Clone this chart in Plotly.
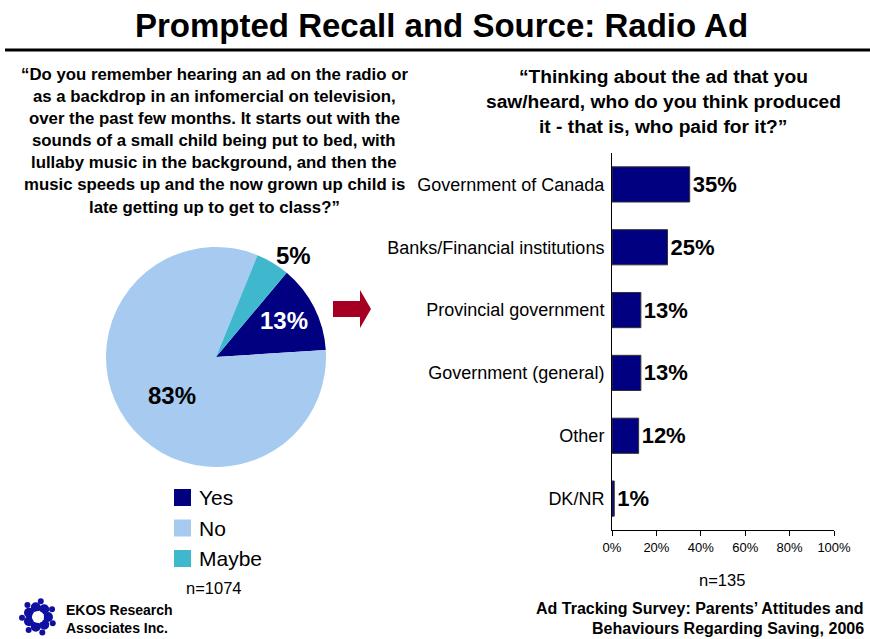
import math
import plotly.graph_objects as go

W, H = 870, 639

# Recall question (pie)
recall_labels = ["Yes", "No", "Maybe"]
recall_values = [13, 83, 5]
recall_colors = ["#000080", "#A6CAF0", "#3FB8CD"]
recall_n = "n=1074"

# Source question (bars)
source_labels = [
    "Government of Canada",
    "Banks/Financial institutions",
    "Provincial government",
    "Government (general)",
    "Other",
    "DK/NR",
]
source_values = [35, 25, 13, 13, 12, 1]
source_n = "n=135"
x_ticks = [0, 20, 40, 60, 80, 100]

title_text = "Prompted Recall and Source: Radio Ad"
q1_lines = [
    "“Do you remember hearing an ad on the radio or",
    "as a backdrop in an infomercial on television,",
    "over the past few months. It starts out with the",
    "sounds of a small child being put to bed, with",
    "lullaby music in the background, and then the",
    "music speeds up and the now grown up child is",
    "late getting up to get to class?”",
]
q2_lines = [
    "“Thinking about the ad that you",
    "saw/heard, who do you think produced",
    "it - that is, who paid for it?”",
]
footer_lines = [
    "Ad Tracking Survey: Parents’ Attitudes and",
    "Behaviours Regarding Saving, 2006",
]
logo_lines = ["EKOS Research", "Associates Inc."]

SANS = "Liberation Sans, Arial"


def px(x):
    return x / W


def py(y):
    return 1 - y / H


def note(x, y, text, size, color="black", xanchor="center", bold=False):
    return dict(x=px(x), y=py(y), xref="paper", yref="paper",
                xanchor=xanchor, yanchor="middle",
                text=f"<b>{text}</b>" if bold else text, showarrow=False,
                font=dict(family=SANS, size=size, color=color))


fig = go.Figure()

fig.add_trace(go.Pie(
    labels=recall_labels,
    values=recall_values,
    marker=dict(colors=recall_colors, line=dict(width=0)),
    sort=False,
    direction="clockwise",
    rotation=40,
    textinfo="none",
    hoverinfo="label+percent",
    showlegend=False,
    domain=dict(x=[px(106), px(326)], y=[py(470), py(244)]),
))

fig.add_trace(go.Bar(
    x=source_values,
    y=source_labels,
    orientation="h",
    marker=dict(color="#000080", line=dict(color="#333333", width=1)),
    text=[f"{v}%" for v in source_values],
    textposition="outside",
    textfont=dict(family=SANS, size=22, color="black", weight="bold"),
    cliponaxis=False,
    showlegend=False,
    xaxis="x",
    yaxis="y",
))

annotations = []
shapes = []

# Title and rule
annotations.append(note(441, 25, title_text, 33, bold=True))
shapes.append(dict(type="line", xref="paper", yref="paper",
                   x0=px(5), x1=px(870), y0=py(50), y1=py(50),
                   line=dict(color="black", width=3)))

# Question texts
for i, line in enumerate(q1_lines):
    annotations.append(note(214, 74 + 22.2 * i, line, 16.8, bold=True))
for i, line in enumerate(q2_lines):
    annotations.append(note(663, 77 + 25 * i, line, 19.2, bold=True))

# Pie value labels
pie_label_pos = [(284, 320, "white"), (172, 396, "black"), (293, 255, "black")]
for v, (x, y, c) in zip(recall_values, pie_label_pos):
    annotations.append(note(x, y, f"{v}%", 24, color=c, bold=True))

# Pie legend
for i, (lab, col) in enumerate(zip(recall_labels, recall_colors)):
    y0 = 489 + 30.5 * i
    shapes.append(dict(type="rect", xref="paper", yref="paper",
                       x0=px(174), x1=px(191), y0=py(y0), y1=py(y0 + 17),
                       fillcolor=col, line=dict(width=0)))
    annotations.append(note(197, y0 + 8.5, lab, 21, xanchor="left"))
annotations.append(note(214, 588, recall_n, 16.5))
annotations.append(note(722, 580, source_n, 16.5))

# Arrow between panels
ax0, ax1, axm = 333, 371, 360
ay_t, ay_b, ay_c = 290, 328, 309
arrow_path = (f"M {px(ax0)} {py(ay_c - 8)} L {px(axm)} {py(ay_c - 8)} "
              f"L {px(axm)} {py(ay_t)} L {px(ax1)} {py(ay_c)} "
              f"L {px(axm)} {py(ay_b)} L {px(axm)} {py(ay_c + 8)} "
              f"L {px(ax0)} {py(ay_c + 8)} Z")
shapes.append(dict(type="path", xref="paper", yref="paper", path=arrow_path,
                   fillcolor="#A50021", line=dict(width=0)))

# Footer
for i, line in enumerate(footer_lines):
    annotations.append(note(866, 608 + 20 * i, line, 16, xanchor="right", bold=True))
for i, line in enumerate(logo_lines):
    annotations.append(note(64, 610 + 18 * i, line, 14, xanchor="left", bold=True))

# Logo: ring of swirls
cx, cy = 38, 617
for k in range(7):
    a = 2 * math.pi * k / 7
    bx, by = cx + 10 * math.cos(a), cy + 10 * math.sin(a)
    shapes.append(dict(type="circle", xref="paper", yref="paper",
                       x0=px(bx - 5), x1=px(bx + 5), y0=py(by - 5), y1=py(by + 5),
                       fillcolor="#1010A0", line=dict(width=0)))
    sx, sy = cx + 16 * math.cos(a + 0.4), cy + 16 * math.sin(a + 0.4)
    shapes.append(dict(type="circle", xref="paper", yref="paper",
                       x0=px(sx - 3), x1=px(sx + 3), y0=py(sy - 3), y1=py(sy + 3),
                       fillcolor="#1010A0", line=dict(width=0)))
shapes.append(dict(type="circle", xref="paper", yref="paper",
                   x0=px(cx - 6), x1=px(cx + 6), y0=py(cy - 6), y1=py(cy + 6),
                   fillcolor="white", line=dict(width=0)))

fig.update_layout(
    width=W, height=H,
    margin=dict(l=0, r=0, t=0, b=0),
    paper_bgcolor="white",
    plot_bgcolor="white",
    bargap=0.44,
    xaxis=dict(domain=[px(612), px(834)], range=[0, 100], tickvals=x_ticks,
               ticktext=[f"{v}%" for v in x_ticks], ticks="outside", ticklen=5,
               tickcolor="black", showline=True, linecolor="black", linewidth=1,
               showgrid=False, zeroline=False, automargin=False,
               tickfont=dict(family=SANS, size=13, color="black"),
               fixedrange=True),
    yaxis=dict(domain=[py(530), py(153)], autorange="reversed",
               showline=True, linecolor="black", linewidth=1, showgrid=False,
               ticks="", ticklabelstandoff=3, automargin=False,
               tickfont=dict(family=SANS, size=18, color="black"),
               fixedrange=True),
    annotations=annotations,
    shapes=shapes,
)

fig.write_html("out.html")
